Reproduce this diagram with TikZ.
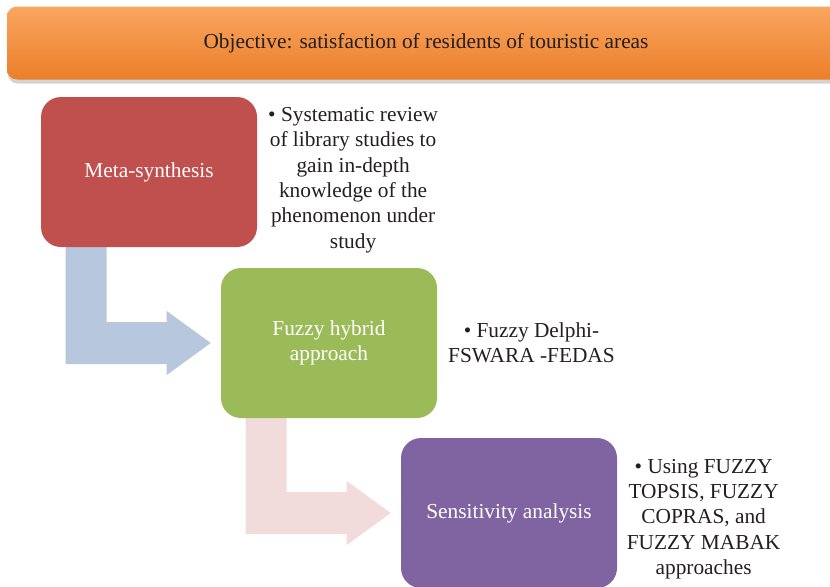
\documentclass[tikz,border=0pt]{standalone}
\usepackage{fontspec}
\setmainfont{Liberation Serif}
\usepackage{tikz}
\usetikzlibrary{calc,shadows,backgrounds,positioning}

\definecolor{metared}{RGB}{192,80,77}
\definecolor{fuzzygreen}{RGB}{155,187,89}
\definecolor{senspurple}{RGB}{128,100,162}
\definecolor{arrowblue}{RGB}{183,199,221}
\definecolor{arrowpink}{RGB}{242,220,219}
\definecolor{goaltop}{RGB}{249,166,96}
\definecolor{goalmid}{RGB}{245,143,62}
\definecolor{goalbot}{RGB}{236,126,42}
\definecolor{notetext}{RGB}{35,31,32}

\begin{document}
\begin{tikzpicture}[x=0.75pt,y=-0.75pt,
    every node/.style={font=\fontsize{16}{19}\selectfont},
    stagebox/.style={rounded corners=15pt,minimum width=162pt,minimum height=112.5pt,text=white,align=center,inner sep=0pt},
    note/.style={text=notetext,align=center,inner sep=0pt}]

    \useasboundingbox (0,0) rectangle (830,586);
    \clip (0,0) rectangle (830,586);

    \node[rounded corners=7.5pt,minimum width=628.5pt,minimum height=54.75pt,text=notetext,
        top color=goaltop,middle color=goalmid,bottom color=goalbot,
        drop shadow={shadow xshift=0.5pt,shadow yshift=-3pt,opacity=0.35}] (goal) at (426,43)
        {Objective: satisfaction of residents of touristic areas};

    \node[stagebox,fill=metared] (meta) at (149,172) {Meta-synthesis};
    \node[stagebox,fill=fuzzygreen] (fuzzy) at (329,343) {Fuzzy hybrid\\approach};
    \node[stagebox,fill=senspurple] (sens) at (509,513) {Sensitivity analysis};

    \node[note,right=8pt of meta,yshift=-6pt] (metanote) {\textbullet{} Systematic review\\of library studies to\\gain in-depth\\knowledge of the\\phenomenon under\\study};
    \node[note,right=8pt of fuzzy] (fuzzynote) {\textbullet{} Fuzzy Delphi-\\FSWARA -FEDAS};
    \node[note,right=7pt of sens,yshift=-4.5pt] (sensnote) {\textbullet{} Using FUZZY\\TOPSIS, FUZZY\\COPRAS, and\\FUZZY MABAK\\approaches};

    \begin{scope}[on background layer]
    \foreach \a/\b/\c in {meta/fuzzy/arrowblue,fuzzy/sens/arrowpink} {
        \coordinate (s) at ($(\a.south west)+(25,-2)$);
        \coordinate (t) at ($(\b.west)+(-10,0)$);
        \fill[\c] (s) -- ++(41,0) |- ($(t)+(-44,-21)$) -- ++(0,-11) -- (t) -- ++(-44,32) -- ++(0,-11) -| (s) -- cycle;
    }
    \end{scope}

\end{tikzpicture}
\end{document}
